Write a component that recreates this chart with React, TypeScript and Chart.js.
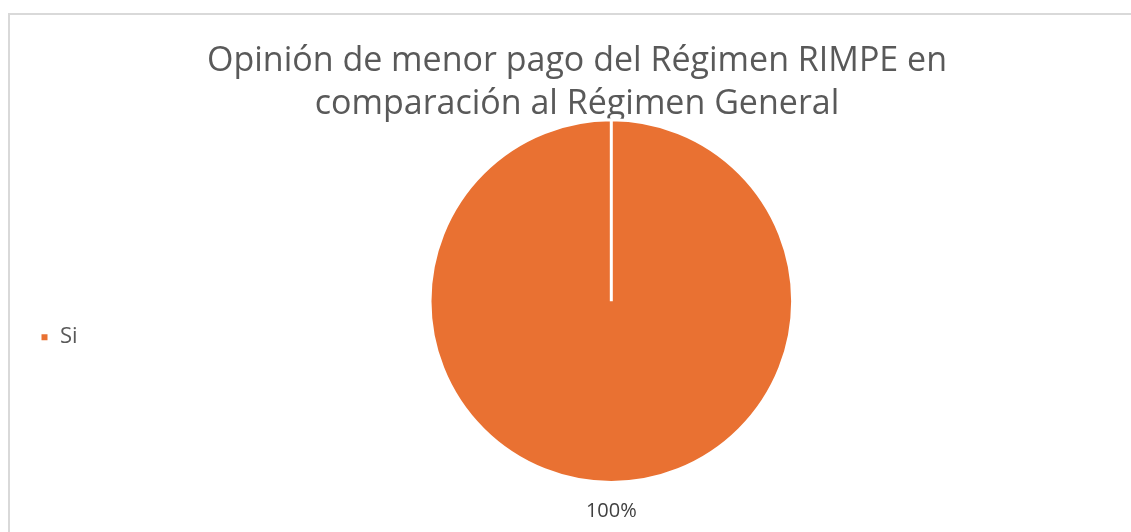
import React, { useEffect, useRef } from "react";
import { Chart, registerables } from "chart.js";

Chart.register(...registerables);

const titleLines = ["Opinión de menor pago del Régimen RIMPE en", "comparación al Régimen General"];
const categories = ["Si"];
const values = [100];
const colors = ["#E97132"];

const FONT = "'Open Sans', 'Noto Sans', sans-serif";

const outsideLabels = {
  id: "outsideLabels",
  afterDatasetsDraw(chart: any) {
    const ctx = chart.ctx;
    const meta = chart.getDatasetMeta(0);
    const data = chart.data.datasets[0].data as number[];
    const total = data.reduce((a, b) => a + b, 0);
    meta.data.forEach((arc: any, i: number) => {
      const p = arc.getProps(["x", "y", "startAngle", "endAngle", "outerRadius"], true);
      const mid = (p.startAngle + p.endAngle) / 2;
      const r = p.outerRadius + 29;
      const x = p.x + Math.cos(mid) * r;
      const y = p.y + Math.sin(mid) * r;
      ctx.save();
      ctx.font = `20px ${FONT}`;
      ctx.fillStyle = "#404040";
      ctx.textAlign = "center";
      ctx.textBaseline = "middle";
      ctx.fillText(Math.round((data[i] / total) * 100) + "%", x, y);
      ctx.restore();
    });
  },
};

export default function App() {
  const ref = useRef<HTMLCanvasElement>(null);
  useEffect(() => {
    if (!ref.current) return;
    const chart = new Chart(ref.current, {
      type: "pie",
      data: {
        labels: categories,
        datasets: [
          {
            data: values,
            backgroundColor: colors,
            borderColor: "#ffffff",
            borderWidth: 3,
          },
        ],
      },
      options: {
        responsive: false,
        animation: false,
        devicePixelRatio: 1,
        layout: { padding: { left: 9, right: 9, top: 0, bottom: 91 } },
        plugins: {
          title: {
            display: true,
            text: titleLines,
            color: "#595959",
            font: { family: FONT, size: 34, weight: "normal", lineHeight: 1.27 },
            padding: { top: 25, bottom: -8 },
          },
          legend: {
            display: true,
            position: "left",
            fullSize: false,
            title: { display: true, text: " ", font: { size: 10 }, padding: { top: 0, bottom: 60 } },
            labels: {
              boxWidth: 9,
              boxHeight: 9,
              padding: 21,
              color: "#595959",
              font: { family: FONT, size: 22 },
            },
          },
          tooltip: { enabled: false },
        },
      },
      plugins: [outsideLabels],
    });
    return () => chart.destroy();
  }, []);
  return (
    <div style={{ position: "fixed", left: 0, top: 0, width: 1131, height: 532, overflow: "hidden", background: "#fff" }}>
      <div style={{ position: "absolute", left: 8, top: 13, width: 1134, height: 560, border: "2px solid #d9d9d9" }}>
        <canvas ref={ref} width={1134} height={560} style={{ display: "block", width: 1134, height: 560 }} />
      </div>
    </div>
  );
}
